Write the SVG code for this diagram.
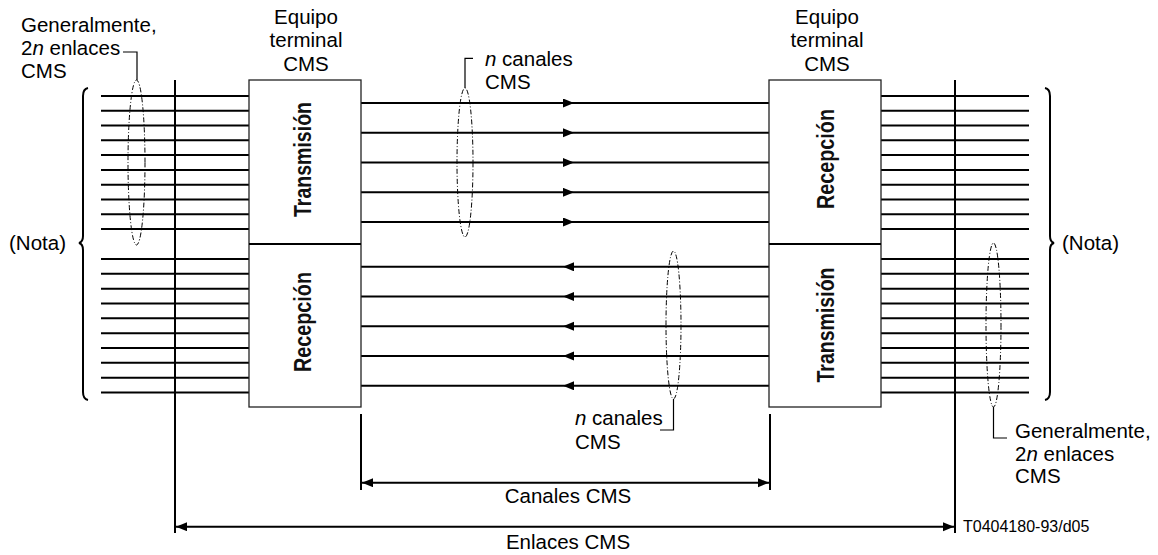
<svg xmlns="http://www.w3.org/2000/svg" width="1158" height="555" viewBox="0 0 1158 555">
<style>
text{font-family:"Liberation Sans",Arial,sans-serif;font-size:20.5px;fill:#000}
.it{font-style:italic}
.mid{text-anchor:middle}
.rot{font-size:23px;font-weight:bold;fill:#111}
.ln{stroke:#000;stroke-width:2;fill:none}
.box{fill:#fff;stroke:#222;stroke-width:1.3}
.ell{fill:none;stroke:#000;stroke-width:1;stroke-dasharray:5,2,1,2}
.ld{fill:none;stroke:#000;stroke-width:1.2}
.sm{font-size:16px}
</style>
<defs>
<marker id="ah" markerUnits="userSpaceOnUse" markerWidth="12" markerHeight="10" refX="11" refY="4.5" orient="auto-start-reverse"><path d="M0,0 L11,4.5 L0,9z" fill="#000"/></marker>
</defs>
<rect width="1158" height="555" fill="#fff"/>

<g id="connectors">
  <!-- left links -->
  <path class="ln" d="M101,96H249M101,110.8H249M101,125.6H249M101,140.3H249M101,155.1H249M101,169.9H249M101,184.7H249M101,199.4H249M101,214.2H249M101,229H249"/>
  <path class="ln" d="M101,259H249M101,273.8H249M101,288.7H249M101,303.5H249M101,318.3H249M101,333.2H249M101,348H249M101,362.8H249M101,377.7H249M101,392.5H249"/>
  <!-- right links -->
  <path class="ln" d="M881,96H1029M881,110.8H1029M881,125.6H1029M881,140.3H1029M881,155.1H1029M881,169.9H1029M881,184.7H1029M881,199.4H1029M881,214.2H1029M881,229H1029"/>
  <path class="ln" d="M881,259H1029M881,273.8H1029M881,288.7H1029M881,303.5H1029M881,318.3H1029M881,333.2H1029M881,348H1029M881,362.8H1029M881,377.7H1029M881,392.5H1029"/>
  <!-- channels forward -->
  <path class="ln" marker-mid="url(#ah)" d="M361,103L574,103L769,103"/>
  <path class="ln" marker-mid="url(#ah)" d="M361,132.8L574,132.8L769,132.8"/>
  <path class="ln" marker-mid="url(#ah)" d="M361,162.5L574,162.5L769,162.5"/>
  <path class="ln" marker-mid="url(#ah)" d="M361,192.3L574,192.3L769,192.3"/>
  <path class="ln" marker-mid="url(#ah)" d="M361,222L574,222L769,222"/>
  <!-- channels backward -->
  <path class="ln" marker-mid="url(#ah)" d="M769,266.8L563,266.8L361,266.8"/>
  <path class="ln" marker-mid="url(#ah)" d="M769,296.5L563,296.5L361,296.5"/>
  <path class="ln" marker-mid="url(#ah)" d="M769,326.3L563,326.3L361,326.3"/>
  <path class="ln" marker-mid="url(#ah)" d="M769,356L563,356L361,356"/>
  <path class="ln" marker-mid="url(#ah)" d="M769,385.8L563,385.8L361,385.8"/>
  <!-- vertical reference lines -->
  <path class="ln" d="M175,80V533M955,80V533M361,414V490M770,414V490"/>
  <!-- dimension arrows -->
  <path class="ln" marker-start="url(#ah)" marker-end="url(#ah)" d="M362,482.7H769"/>
  <path class="ln" marker-start="url(#ah)" marker-end="url(#ah)" d="M176,526.7H954"/>
  <!-- braces -->
  <path class="ln" d="M88,88Q83,89 83,96L83,236Q83,242 79,243Q83,244 83,250L83,392Q83,399 88,400"/>
  <path class="ln" d="M1045,88Q1050,89 1050,96L1050,236Q1050,242 1054,243Q1050,244 1050,250L1050,392Q1050,399 1045,400"/>
  <!-- ellipses and leaders -->
  <ellipse class="ell" cx="136.5" cy="162.5" rx="8.5" ry="82.5"/>
  <path class="ld" d="M123,52H137V80"/>
  <ellipse class="ell" cx="465" cy="162.5" rx="8" ry="74.5"/>
  <path class="ld" d="M473,58.3H465V88"/>
  <ellipse class="ell" cx="673.5" cy="325" rx="7.5" ry="74"/>
  <path class="ld" d="M660,430H673.5V399"/>
  <ellipse class="ell" cx="993.5" cy="325" rx="7.5" ry="82"/>
  <path class="ld" d="M1007,438H993.5V407"/>
</g>

<g id="left-terminal">
  <rect class="box" x="249" y="80" width="112" height="327"/>
  <path class="ln" d="M249,244H361"/>
  <text class="mid" x="306" y="24">Equipo</text>
  <text class="mid" x="306" y="47.3">terminal</text>
  <text class="mid" x="306" y="70.7">CMS</text>
</g>
<g id="left-tx">
  <text class="mid rot" textLength="115" lengthAdjust="spacingAndGlyphs" transform="translate(310.5,159.5) rotate(-90)">Transmisión</text>
</g>
<g id="left-rx">
  <text class="mid rot" textLength="100" lengthAdjust="spacingAndGlyphs" transform="translate(310.5,322) rotate(-90)">Recepción</text>
</g>

<g id="right-terminal">
  <rect class="box" x="769" y="80" width="112" height="327"/>
  <path class="ln" d="M769,244H881"/>
  <text class="mid" x="827" y="24">Equipo</text>
  <text class="mid" x="827" y="47.3">terminal</text>
  <text class="mid" x="827" y="70.7">CMS</text>
</g>
<g id="right-rx">
  <text class="mid rot" textLength="100" lengthAdjust="spacingAndGlyphs" transform="translate(833.5,159) rotate(-90)">Recepción</text>
</g>
<g id="right-tx">
  <text class="mid rot" textLength="115" lengthAdjust="spacingAndGlyphs" transform="translate(833.5,325) rotate(-90)">Transmisión</text>
</g>

<g id="labels">
  <text x="21" y="31.5">Generalmente,</text>
  <text x="21" y="54.5">2<tspan class="it">n</tspan> enlaces</text>
  <text x="21" y="77.5">CMS</text>
  <text x="9" y="250">(Nota)</text>
  <text x="1062" y="250">(Nota)</text>
  <text x="485" y="65.5"><tspan class="it">n</tspan> canales</text>
  <text x="485" y="89">CMS</text>
  <text x="575" y="425"><tspan class="it">n</tspan> canales</text>
  <text x="575" y="449">CMS</text>
  <text x="1015" y="438">Generalmente,</text>
  <text x="1015" y="460.5">2<tspan class="it">n</tspan> enlaces</text>
  <text x="1015" y="483">CMS</text>
  <text class="mid" x="568" y="503">Canales CMS</text>
  <text class="mid" x="568" y="549">Enlaces CMS</text>
  <text class="sm" x="963" y="531.5">T0404180-93/d05</text>
</g>
</svg>
